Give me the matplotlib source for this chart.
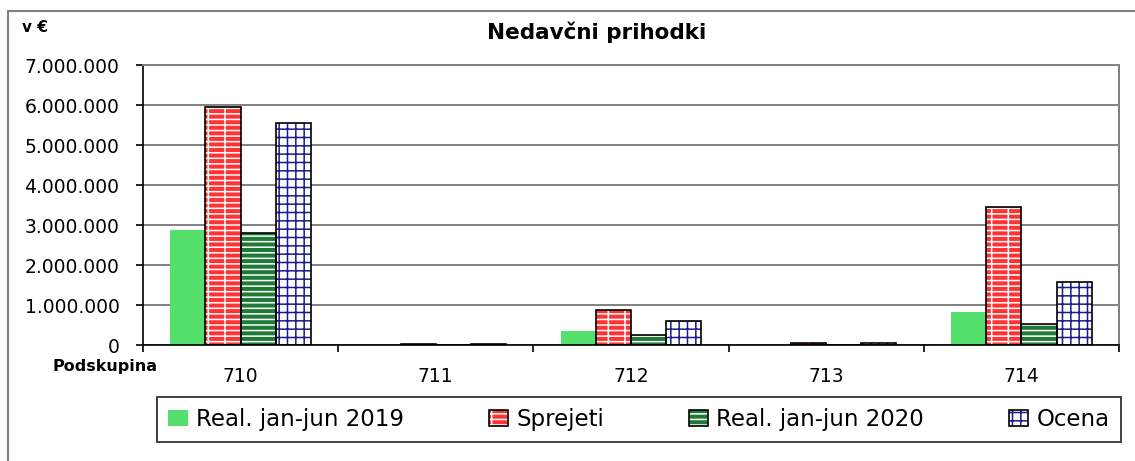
import matplotlib.pyplot as plt
from matplotlib.patches import Patch, Rectangle
from matplotlib.ticker import FuncFormatter
import numpy as np

# data
categories = ['710', '711', '712', '713', '714']
real_2019 = [2880000, 5000, 350000, 5000, 820000]
sprejeti = [5950000, 15000, 875000, 60000, 3450000]
real_2020 = [2800000, 5000, 250000, 10000, 530000]
ocena = [5550000, 35000, 600000, 40000, 1580000]
series_names = ['Real. jan-jun 2019', 'Sprejeti', 'Real. jan-jun 2020', 'Ocena']

plt.rcParams['hatch.linewidth'] = 1.1

fig = plt.figure(figsize=(11.35, 4.61), dpi=100)
ax = fig.add_axes([143/1135, 1-345/461, (1119-143)/1135, (345-65)/461])

# outer frame (left + top only visible)
fig.patches.append(Rectangle((8/1135, -0.1), 1.2, 1-11/461+0.1, transform=fig.transFigure,
                             fill=False, edgecolor='#808080', lw=1.5))

x = np.arange(len(categories))
w = 0.18
# (values, face, hatch, hatch colour, outline)
styles = [
    (real_2019, '#55e06e', None, '#55e06e', None),
    (sprejeti, '#ff3333', '---|', 'white', 'black'),
    (real_2020, '#1e7a36', '---', 'white', 'black'),
    (ocena, 'white', '--||', '#1a1a8c', '#1a1a8c'),
]
handles = []
for i, (vals, face, hatch, hcol, outline) in enumerate(styles):
    pos = x + (i - 1.5) * w
    ax.bar(pos, vals, w, color=face, hatch=hatch, edgecolor=hcol, linewidth=0, zorder=2)
    if outline:
        ax.bar(pos, vals, w, fill=False, edgecolor='black', linewidth=1.2, zorder=3)
        handles.append((Patch(facecolor=face, hatch=hatch, edgecolor=hcol, linewidth=0),
                        Patch(fill=False, edgecolor='black', linewidth=1.2)))
    else:
        handles.append(Patch(facecolor=face, edgecolor=face, linewidth=0))

ax.set_xlim(-0.5, 4.5)
ax.set_ylim(0, 7000000)
ax.set_yticks(np.arange(0, 7000001, 1000000))
ax.yaxis.set_major_formatter(FuncFormatter(lambda v, p: f'{int(v):,}'.replace(',', '.')))
ax.grid(axis='y', color='#808080', linewidth=1.4, zorder=0)
ax.set_axisbelow(True)

ax.set_xticks(x)
ax.set_xticklabels(categories)
ax.set_xticks(np.arange(-0.5, 5, 1), minor=True)
ax.tick_params(axis='x', which='major', length=0, pad=16, labelsize=13.5)
ax.tick_params(axis='x', which='minor', length=5, width=1.2, direction='out')
ax.tick_params(axis='y', length=5, width=1.2, pad=12, labelsize=13.5)

for s in ['left', 'bottom']:
    ax.spines[s].set_color('black')
    ax.spines[s].set_linewidth(1.2)
for s in ['top', 'right']:
    ax.spines[s].set_color('#808080')
    ax.spines[s].set_linewidth(1.4)

fig.text(597/1135, 1-32/461, 'Nedavčni prihodki', ha='center', va='center',
         fontsize=15.5, fontweight='bold')
fig.text(22/1135, 1-28/461, 'v €', ha='left', va='center', fontsize=11, fontweight='bold')
fig.text(158/1135, 1-366/461, 'Podskupina', ha='right', va='center', fontsize=11.5,
         fontweight='bold')

leg = fig.legend(handles, series_names, loc='center', ncol=4,
                 bbox_to_anchor=(639/1135, 1-419.5/461), fontsize=16.5,
                 frameon=True, fancybox=False, edgecolor='black',
                 handlelength=0.85, handleheight=0.75, handletextpad=0.35,
                 columnspacing=3.7, borderpad=0.5, borderaxespad=0)
leg.get_frame().set_linewidth(1.3)

fig.savefig('out.png', dpi=100)
